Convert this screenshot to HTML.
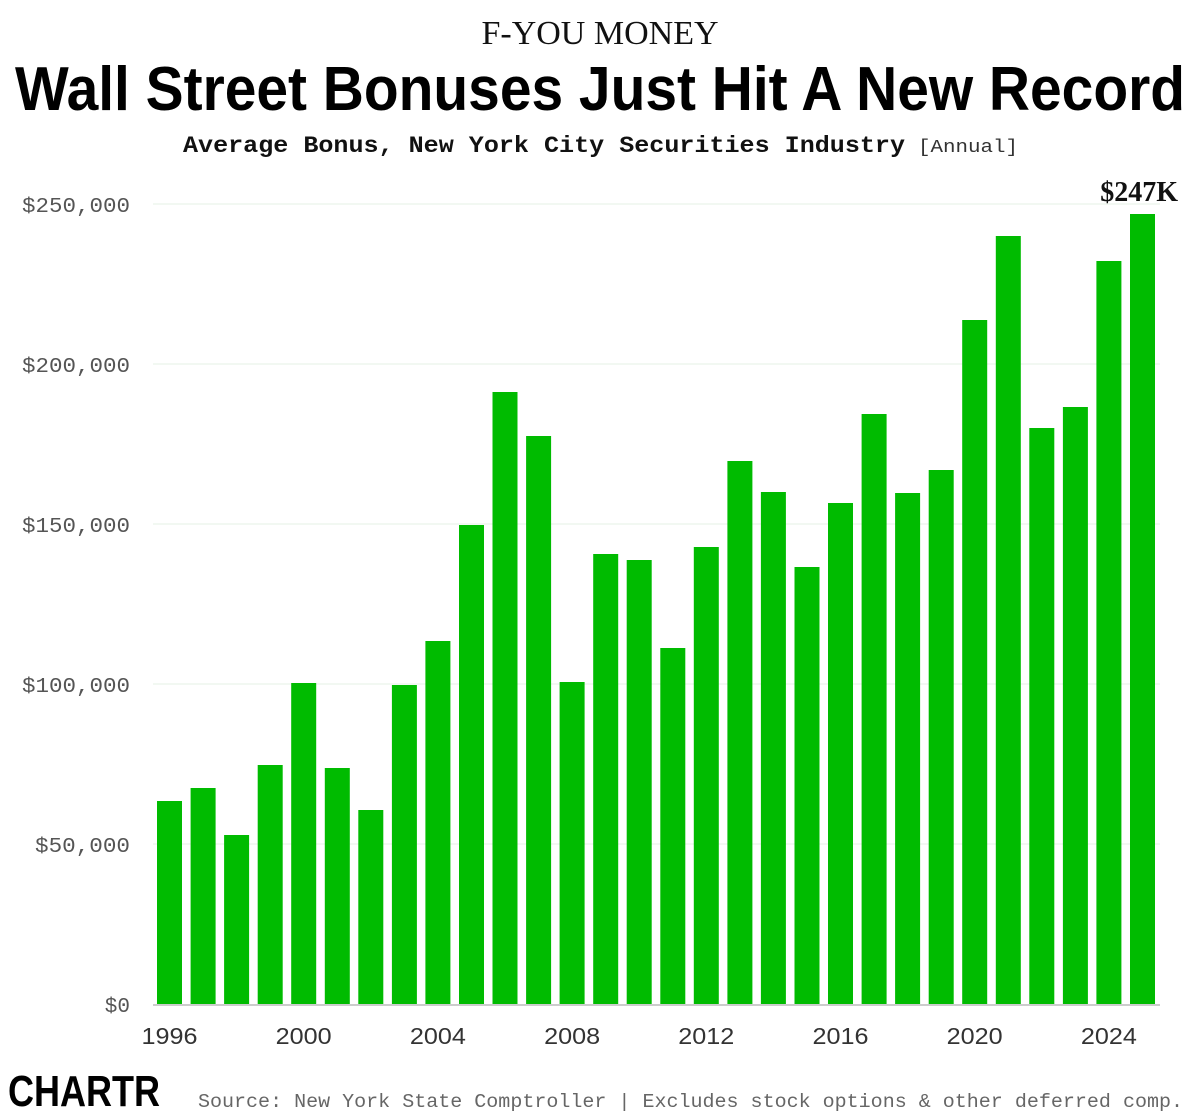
<!DOCTYPE html>
<html><head><meta charset="utf-8"><style>
html,body{margin:0;padding:0;background:#fff;}
body{width:1200px;height:1114px;position:relative;overflow:hidden;}
</style></head><body>
<svg width="1200" height="1114" xmlns="http://www.w3.org/2000/svg">
<text x="600" y="44" text-anchor="middle" font-family="Liberation Serif, serif" font-size="34" fill="#111">F-YOU MONEY</text>
<text x="600" y="110" text-anchor="middle" font-family="Liberation Sans, sans-serif" font-weight="bold" font-size="62" fill="#000" textLength="1170" lengthAdjust="spacingAndGlyphs">Wall Street Bonuses Just Hit A New Record</text>
<text x="183" y="152" font-family="Liberation Mono, monospace" font-weight="bold" font-size="23" fill="#111" textLength="722" lengthAdjust="spacingAndGlyphs">Average Bonus, New York City Securities Industry</text>
<text x="918" y="152" font-family="Liberation Mono, monospace" font-size="18" fill="#333" textLength="100" lengthAdjust="spacingAndGlyphs">[Annual]</text>
<g stroke="#eef6ee" stroke-width="1.5">
<line x1="153" x2="1160" y1="204" y2="204"/><line x1="153" x2="1160" y1="364" y2="364"/><line x1="153" x2="1160" y1="524" y2="524"/><line x1="153" x2="1160" y1="684" y2="684"/><line x1="153" x2="1160" y1="844" y2="844"/>
</g>
<g font-family="Liberation Mono, monospace" font-size="21" fill="#555" text-anchor="end">
<text x="130" y="212" textLength="108" lengthAdjust="spacingAndGlyphs">$250,000</text><text x="130" y="372" textLength="108" lengthAdjust="spacingAndGlyphs">$200,000</text><text x="130" y="532" textLength="108" lengthAdjust="spacingAndGlyphs">$150,000</text><text x="130" y="692" textLength="108" lengthAdjust="spacingAndGlyphs">$100,000</text><text x="130" y="852" textLength="95" lengthAdjust="spacingAndGlyphs">$50,000</text><text x="130" y="1012">$0</text>
</g>
<g fill="#00bb00">
<rect x="157" y="801" width="25" height="203"/>
<rect x="190.6" y="788" width="25" height="216"/>
<rect x="224.1" y="835" width="25" height="169"/>
<rect x="257.7" y="765" width="25" height="239"/>
<rect x="291.2" y="683" width="25" height="321"/>
<rect x="324.8" y="768" width="25" height="236"/>
<rect x="358.3" y="810" width="25" height="194"/>
<rect x="391.9" y="685" width="25" height="319"/>
<rect x="425.4" y="641" width="25" height="363"/>
<rect x="459" y="525" width="25" height="479"/>
<rect x="492.5" y="392" width="25" height="612"/>
<rect x="526.1" y="436" width="25" height="568"/>
<rect x="559.6" y="682" width="25" height="322"/>
<rect x="593.2" y="554" width="25" height="450"/>
<rect x="626.7" y="560" width="25" height="444"/>
<rect x="660.3" y="648" width="25" height="356"/>
<rect x="693.8" y="547" width="25" height="457"/>
<rect x="727.4" y="461" width="25" height="543"/>
<rect x="760.9" y="492" width="25" height="512"/>
<rect x="794.5" y="567" width="25" height="437"/>
<rect x="828" y="503" width="25" height="501"/>
<rect x="861.6" y="414" width="25" height="590"/>
<rect x="895.1" y="493" width="25" height="511"/>
<rect x="928.7" y="470" width="25" height="534"/>
<rect x="962.2" y="320" width="25" height="684"/>
<rect x="995.8" y="236" width="25" height="768"/>
<rect x="1029.3" y="428" width="25" height="576"/>
<rect x="1062.9" y="407" width="25" height="597"/>
<rect x="1096.4" y="261" width="25" height="743"/>
<rect x="1130" y="214" width="25" height="790"/>
</g>
<line x1="153" x2="1160" y1="1005" y2="1005" stroke="#ccc" stroke-width="2"/>
<g font-family="Liberation Sans, sans-serif" font-size="23" fill="#333" text-anchor="middle">
<text x="169.5" y="1044" textLength="56" lengthAdjust="spacingAndGlyphs">1996</text><text x="303.7" y="1044" textLength="56" lengthAdjust="spacingAndGlyphs">2000</text><text x="437.9" y="1044" textLength="56" lengthAdjust="spacingAndGlyphs">2004</text><text x="572.1" y="1044" textLength="56" lengthAdjust="spacingAndGlyphs">2008</text><text x="706.3" y="1044" textLength="56" lengthAdjust="spacingAndGlyphs">2012</text><text x="840.5" y="1044" textLength="56" lengthAdjust="spacingAndGlyphs">2016</text><text x="974.7" y="1044" textLength="56" lengthAdjust="spacingAndGlyphs">2020</text><text x="1108.9" y="1044" textLength="56" lengthAdjust="spacingAndGlyphs">2024</text>
</g>
<text x="1178" y="201" text-anchor="end" font-family="Liberation Serif, serif" font-weight="bold" font-size="28" fill="#111">$247K</text>
<text x="8" y="1106" font-family="Liberation Sans, sans-serif" font-weight="bold" font-size="44" fill="#000" textLength="152" lengthAdjust="spacingAndGlyphs">CHARTR</text>
<text x="198" y="1107" font-family="Liberation Mono, monospace" font-size="19" fill="#666" textLength="985" lengthAdjust="spacingAndGlyphs">Source: New York State Comptroller | Excludes stock options &amp; other deferred comp.</text>
</svg>
</body></html>
